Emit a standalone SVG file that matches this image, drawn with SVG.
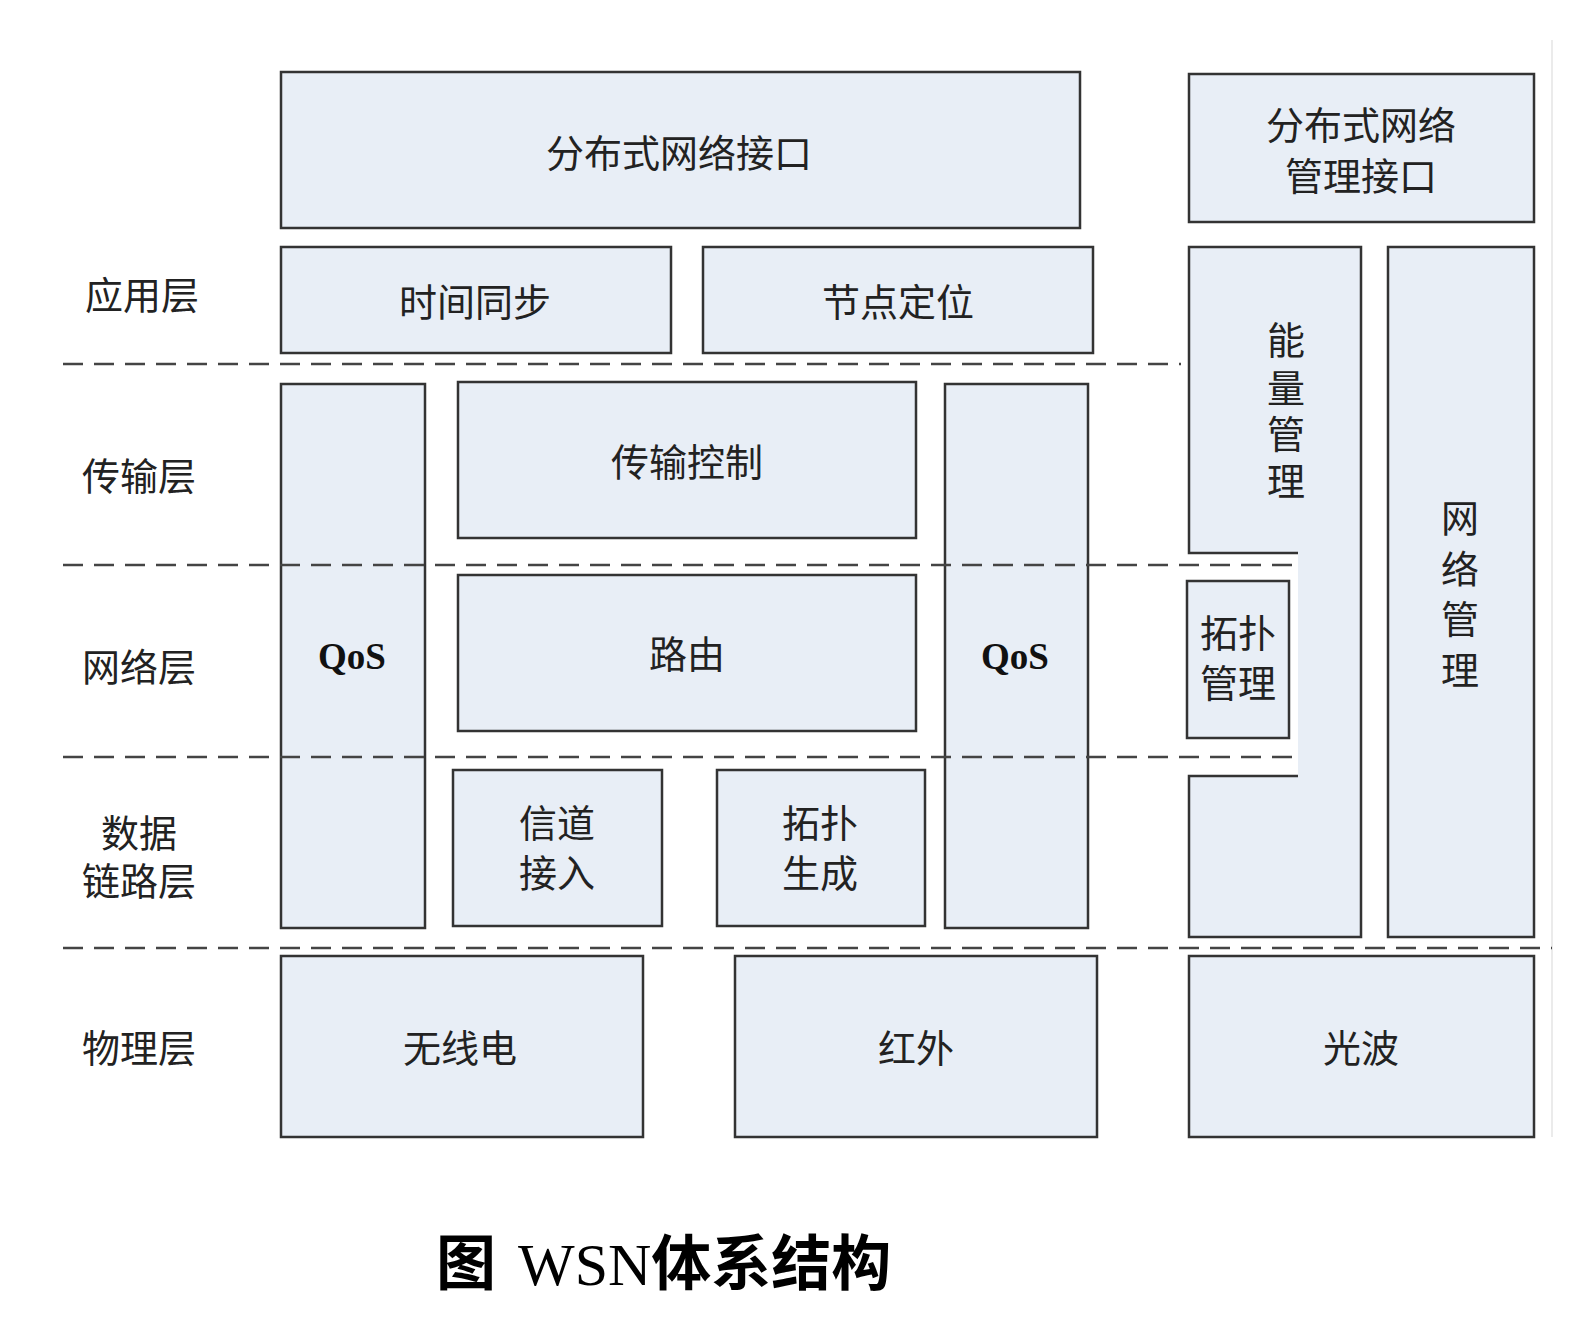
<svg xmlns="http://www.w3.org/2000/svg" width="1596" height="1322" viewBox="0 0 1596 1322">
<style>
.box{fill:#e8eef6;stroke:#333;stroke-width:2.5}
.t{font-family:"Noto Sans CJK SC","Noto Sans",sans-serif;font-size:38px;fill:#222;text-anchor:middle;dominant-baseline:central}
.q{font-family:"Liberation Serif",serif;font-size:37px;font-weight:bold;fill:#111;text-anchor:middle;dominant-baseline:central}
.dash{stroke:#444;stroke-width:2.5;stroke-dasharray:20 11;fill:none}
</style>
<rect x="0" y="0" width="1596" height="1322" fill="#fff"/>
<line x1="1552" y1="40" x2="1552" y2="1137" stroke="#e4e4e4" stroke-width="1.5"/>
<g id="labels">
<text class="t" x="142" y="292">应用层</text>
<text class="t" x="139" y="473">传输层</text>
<text class="t" x="139" y="664">网络层</text>
<text class="t" x="139" y="830">数据</text>
<text class="t" x="139" y="878">链路层</text>
<text class="t" x="139" y="1045">物理层</text>
</g>
<g id="dist-if"><rect class="box" x="281" y="72" width="799" height="156"/><text class="t" x="679" y="150">分布式网络接口</text></g>
<g id="dist-mgmt-if"><rect class="box" x="1189" y="74" width="345" height="148"/><text class="t" x="1361" y="122">分布式网络</text><text class="t" x="1361" y="173">管理接口</text></g>
<g id="time-sync"><rect class="box" x="281" y="247" width="390" height="106"/><text class="t" x="475" y="299">时间同步</text></g>
<g id="node-loc"><rect class="box" x="703" y="247" width="390" height="106"/><text class="t" x="898" y="299">节点定位</text></g>
<g id="qos-left"><rect class="box" x="281" y="384" width="144" height="544"/><text class="q" x="352" y="656">QoS</text></g>
<g id="trans-ctrl"><rect class="box" x="458" y="382" width="458" height="156"/><text class="t" x="687" y="459">传输控制</text></g>
<g id="qos-right"><rect class="box" x="945" y="384" width="143" height="544"/><text class="q" x="1015" y="656">QoS</text></g>
<g id="routing"><rect class="box" x="458" y="575" width="458" height="156"/><text class="t" x="687" y="651">路由</text></g>
<g id="channel"><rect class="box" x="453" y="770" width="209" height="156"/><text class="t" x="557" y="820">信道</text><text class="t" x="557" y="870">接入</text></g>
<g id="topo-gen"><rect class="box" x="717" y="770" width="208" height="156"/><text class="t" x="820" y="820">拓扑</text><text class="t" x="820" y="870">生成</text></g>
<g id="energy">
<path d="M1189,247 H1361 V937 H1189 V776 H1298 V553 H1189 Z" fill="#e8eef6" stroke="none"/>
<path d="M1298,553 H1189 V247 H1361 V937 H1189 V776 H1298" fill="none" stroke="#333" stroke-width="2.5"/>
<text class="t" x="1286" y="337">能</text><text class="t" x="1286" y="385">量</text><text class="t" x="1286" y="431">管</text><text class="t" x="1286" y="478">理</text>
</g>
<g id="topo-mgmt"><rect class="box" x="1187" y="581" width="102" height="157"/><text class="t" x="1238" y="630">拓扑</text><text class="t" x="1238" y="680">管理</text></g>
<g id="net-mgmt"><rect class="box" x="1388" y="247" width="146" height="690"/><text class="t" x="1460" y="515">网</text><text class="t" x="1460" y="566">络</text><text class="t" x="1460" y="616">管</text><text class="t" x="1460" y="667">理</text></g>
<g id="radio"><rect class="box" x="281" y="956" width="362" height="181"/><text class="t" x="460" y="1045">无线电</text></g>
<g id="infrared"><rect class="box" x="735" y="956" width="362" height="181"/><text class="t" x="916" y="1045">红外</text></g>
<g id="light"><rect class="box" x="1189" y="956" width="345" height="181"/><text class="t" x="1361" y="1045">光波</text></g>
<g id="connectors">
<line class="dash" x1="63" y1="364" x2="1181" y2="364"/>
<line class="dash" x1="63" y1="565" x2="1298" y2="565"/>
<line class="dash" x1="63" y1="757" x2="1298" y2="757"/>
<line class="dash" x1="63" y1="948" x2="1552" y2="948"/>
</g>
<g id="title">
<text x="436" y="1285" font-size="60" fill="#000"><tspan font-family="Noto Sans CJK SC,sans-serif" font-weight="bold">图</tspan><tspan font-family="Liberation Serif,serif" dx="22">WSN</tspan><tspan font-family="Noto Sans CJK SC,sans-serif" font-weight="bold">体系结构</tspan></text>
</g>
</svg>
